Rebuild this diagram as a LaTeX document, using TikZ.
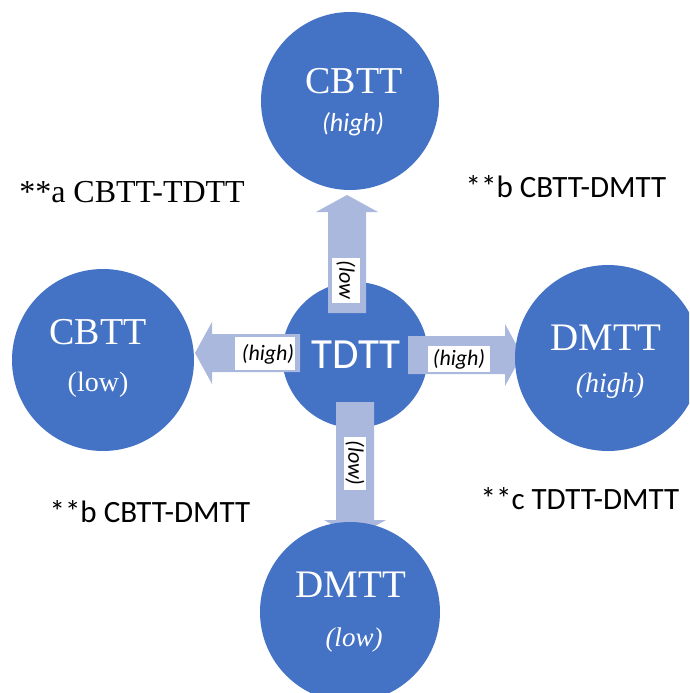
\documentclass[tikz,border=0pt]{standalone}
\usepackage{fontspec}
\setmainfont{Liberation Serif}
\newfontfamily\calib{Carlito}
\usetikzlibrary{calc}
\definecolor{discblue}{RGB}{68,114,196}
\definecolor{arrowblue}{RGB}{170,184,222}

% block arrow from #1 to #2: shaft half-width 19, head half-width 31, head length 17
\newcommand\blockarrow[2]{%
  \path ($(#2)!17pt!(#1)$) coordinate (hb);
  \fill[arrowblue]
    ($(#1)!19pt!90:(#2)$) -- ($(hb)!19pt!90:(#2)$) -- ($(hb)!31pt!90:(#2)$)
    -- (#2)
    -- ($(hb)!31pt!-90:(#2)$) -- ($(hb)!19pt!-90:(#2)$) -- ($(#1)!19pt!-90:(#2)$)
    -- cycle;
}

\begin{document}
\begin{tikzpicture}[x=1pt,y=-1pt,
  disc/.style={circle, fill=discblue, draw=none, inner sep=0pt, minimum size=#1},
  disctext/.style={text=white, anchor=base, inner sep=0pt},
  lblbox/.style={fill=white, draw=none, inner sep=0pt},
  lbltext/.style={font=\calib\itshape\fontsize{22}{24}\selectfont, inner sep=0pt},
  note/.style={anchor=base, inner sep=0pt, text=black}]

\useasboundingbox (0,0) rectangle (689,693);
\clip (0,0) rectangle (689,693);
\fill[white] (0,0) rectangle (689,693);

% central disc
\node[disc=146pt] (tdtt) at (355,355) {};
\node[disctext, font=\calib\fontsize{43}{46}\selectfont] (tdtt-t) at (356,368) {TDTT};

% arrow end points
\coordinate (uS) at (347,313);  \coordinate (uE) at (347,195);
\coordinate (lS) at (300,353);  \coordinate (lE) at (195,353);
\coordinate (rS) at (408,355);  \coordinate (rE) at (522,355);
\coordinate (dS) at (355,402);  \coordinate (dE) at (355,537);

\blockarrow{uS}{uE}
\blockarrow{lS}{lE}
\blockarrow{rS}{rE}
\blockarrow{dS}{dE}

% labels on the arrows
\node[lblbox, minimum width=28pt, minimum height=45pt] (ubox) at (346,280) {};
\node[lbltext, rotate=-90] (utext) at (ubox.center) {(low};
\node[lblbox, minimum width=60pt, minimum height=33pt] (lbox) at (265,353.5) {};
\node[lbltext] (ltext) at (268,354) {(high)};
\node[lblbox, minimum width=62pt, minimum height=26pt] (rbox) at (459,359) {};
\node[lbltext] (rtext) at (rbox.center) {(high)};
\node[lblbox, minimum width=22pt, minimum height=53pt] (dbox) at (355,463) {};
\node[lbltext, rotate=-90] (dtext) at (dbox.center) {(low)};

% outer discs
\node[disc=178pt] (cbttH) at (350,101) {};
\node[disctext, font=\fontsize{38}{40}\selectfont] at (354,93) {CBTT};
\node[disctext, font=\calib\itshape\fontsize{26}{28}\selectfont] at (353,131) {(high)};

\node[disc=182pt] (cbttL) at (103,360) {};
\node[disctext, font=\fontsize{38}{40}\selectfont] at (98,344) {CBTT};
\node[disctext, font=\fontsize{28}{30}\selectfont] at (98,391) {(low)};

\node[disc=186pt] (dmttH) at (608,358) {};
\node[disctext, font=\fontsize{39}{41}\selectfont] at (606,350) {DMTT};
\node[disctext, font=\itshape\fontsize{28}{30}\selectfont] at (610,392) {(high)};

\node[disc=180pt] (dmttL) at (350,612) {};
\node[disctext, font=\fontsize{39}{41}\selectfont] at (351,597) {DMTT};
\node[disctext, font=\itshape\fontsize{27}{29}\selectfont] at (354,646) {(low)};

% pair notes
\node[note, font=\fontsize{32}{34}\selectfont] (na) at (132,202) {**a CBTT-TDTT};
\node[note, font=\calib\fontsize{31}{33}\selectfont] (nb1) at (566,197) {**b CBTT-DMTT};
\node[note, font=\calib\fontsize{31}{33}\selectfont] (nb2) at (150,522) {**b CBTT-DMTT};
\node[note, font=\calib\fontsize{31}{33}\selectfont] (nc) at (580,509) {**c TDTT-DMTT};
\end{tikzpicture}
\end{document}
